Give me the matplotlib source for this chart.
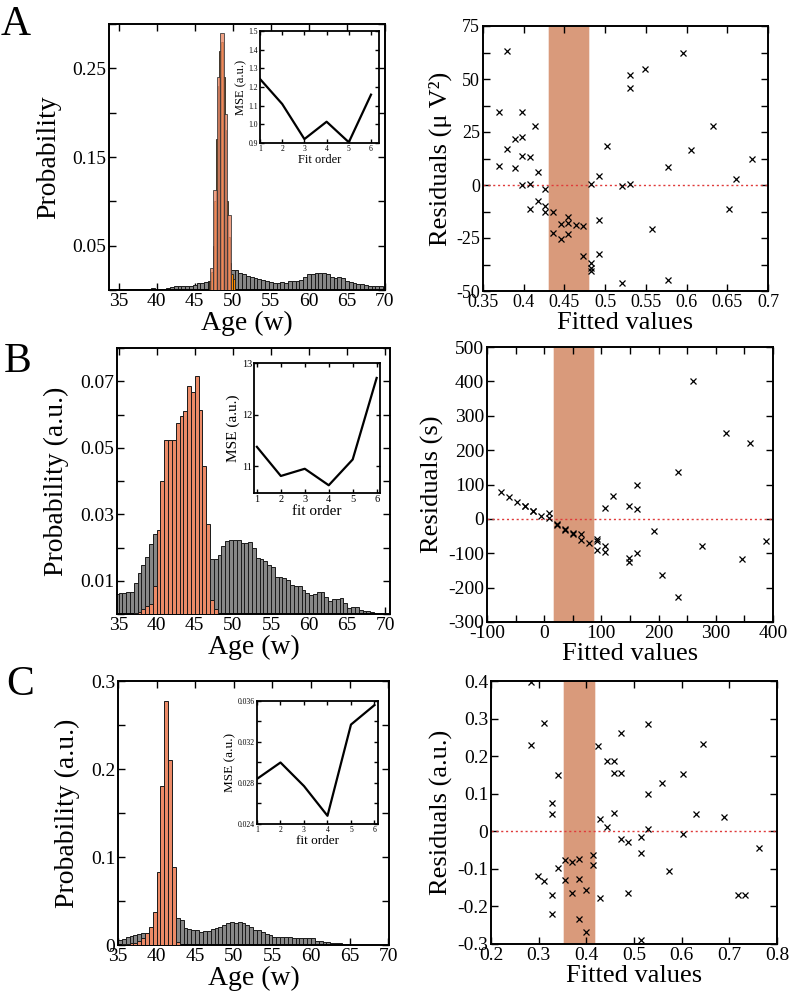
import numpy as np
import matplotlib
matplotlib.use("Agg")
import matplotlib.pyplot as plt
from matplotlib.ticker import FixedLocator, FuncFormatter

plt.rcParams['font.family'] = ['Liberation Serif', 'DejaVu Serif']
plt.rcParams['mathtext.fontset'] = 'stix'

# ---------------- data ----------------
# Panel A histograms (probability per bin)
A_gray_start, A_gray_w = 33.75, 0.5
A_gray = [0.0012, 0.0012, 0.0012, 0.0010, 0.0008, 0.0008, 0.0010, 0.0012, 0.0012, 0.0014,
          0.0016, 0.0018, 0.0014, 0.0012, 0.0016, 0.0025, 0.0032, 0.0040, 0.0043, 0.0045,
          0.0045, 0.0048, 0.0055, 0.0075, 0.0080, 0.0088, 0.0105, 0.0125, 0.0150, 0.0180,
          0.0200, 0.0210, 0.0220, 0.0220, 0.0190, 0.0175, 0.0160, 0.0145, 0.0135, 0.0122,
          0.0110, 0.0100, 0.0095, 0.0083, 0.0075, 0.0085, 0.0080, 0.0105, 0.0105, 0.0105,
          0.0115, 0.0150, 0.0175, 0.0185, 0.0195, 0.0190, 0.0190, 0.0175, 0.0150, 0.0135,
          0.0145, 0.0135, 0.0105, 0.0085, 0.0075, 0.0070, 0.0065, 0.0055, 0.0050, 0.0048,
          0.0045, 0.0045, 0.0035]
A_peak_start, A_peak_w = 47.02, 0.45
A_peak = [0.025, 0.113, 0.240, 0.290, 0.198, 0.085]
A_fine_start, A_fine_w = 46.9, 0.225
A_fine = [0.010, 0.020, 0.050, 0.100, 0.170, 0.230, 0.270, 0.280, 0.240, 0.180,
          0.100, 0.060, 0.030, 0.018, 0.012]

# Panel B histograms
B_gray_start, B_gray_w = 34.5, 0.5
B_gray = [0.0059, 0.0064, 0.0064, 0.0065, 0.0067, 0.0092, 0.0124, 0.0147, 0.0170, 0.0212,
          0.0240, 0.0250, 0.0250, 0.0240, 0.0230, 0.0220, 0.0210, 0.0200, 0.0190, 0.0180,
          0.0180, 0.0170, 0.0170, 0.0165, 0.0165, 0.0165, 0.0165, 0.0177, 0.0204, 0.0220,
          0.0222, 0.0224, 0.0222, 0.0214, 0.0214, 0.0217, 0.0197, 0.0167, 0.0164, 0.0160,
          0.0147, 0.0142, 0.0112, 0.0110, 0.0107, 0.0102, 0.0087, 0.0085, 0.0085, 0.0072,
          0.0064, 0.0057, 0.0060, 0.0067, 0.0067, 0.0050, 0.0040, 0.0045, 0.0044, 0.0047,
          0.0032, 0.0017, 0.0020, 0.0020, 0.0012, 0.0010, 0.0008, 0.0006, 0.0004, 0.0002,
          0.0001]
B_peak_start, B_peak_w = 37.0, 0.5
B_peak = [0.0004, 0.0007, 0.0015, 0.0024, 0.0030, 0.0085, 0.0252, 0.0400, 0.0524, 0.0524,
          0.0524, 0.0575, 0.0594, 0.0610, 0.0687, 0.0667, 0.0715, 0.0614, 0.0444, 0.0272,
          0.0042, 0.0014]

# Panel C histograms
C_gray_start, C_gray_w = 35.0, 0.5
C_gray = [0.0060, 0.0068, 0.0087, 0.0100, 0.0110, 0.0125, 0.0135, 0.0140, 0.0160, 0.0180,
          0.0250, 0.0300, 0.0320, 0.0330, 0.0330, 0.0310, 0.0280, 0.0190, 0.0180, 0.0170,
          0.0170, 0.0150, 0.0160, 0.0160, 0.0180, 0.0190, 0.0210, 0.0230, 0.0250, 0.0260,
          0.0250, 0.0260, 0.0250, 0.0230, 0.0210, 0.0170, 0.0170, 0.0150, 0.0130, 0.0110,
          0.0095, 0.0087, 0.0087, 0.0087, 0.0087, 0.0083, 0.0083, 0.0083, 0.0083, 0.0083,
          0.0083, 0.0050, 0.0045, 0.0038, 0.0030, 0.0026, 0.0019, 0.0019, 0.0011, 0.0011,
          0.0004, 0.0002]
C_peak_start, C_peak_w = 35.5, 0.5
C_peak = [0.0010, 0.0015, 0.0020, 0.0026, 0.0045, 0.0076, 0.0140, 0.0210, 0.0380, 0.0830,
          0.1810, 0.2770, 0.2100, 0.0890, 0.0030]

# Insets: MSE vs fit order
fit_order = [1, 2, 3, 4, 5, 6]
A_mse = [1.243, 1.109, 0.921, 1.014, 0.904, 1.159]
B_mse = [11.375, 10.81, 10.95, 10.63, 11.13, 12.71]
C_mse = [0.0284, 0.0300, 0.0277, 0.0248, 0.0337, 0.0356]

# Residual scatter plots
A_fit = [0.3795, 0.3696, 0.3983, 0.4143, 0.3889, 0.3983, 0.3795, 0.3983, 0.4077, 0.3696,
         0.3889, 0.4171, 0.3983, 0.4077, 0.4265, 0.4077, 0.4171, 0.4265, 0.4265, 0.4360,
         0.4360, 0.4454, 0.4454, 0.4548, 0.4548, 0.4548, 0.4638, 0.4732, 0.4732, 0.4826,
         0.4826, 0.4826, 0.4826, 0.4924, 0.4924, 0.4924, 0.5019, 0.5203, 0.5203, 0.5301,
         0.5301, 0.5301, 0.5493, 0.5579, 0.5768, 0.5768, 0.5956, 0.6050, 0.6328, 0.6521,
         0.6611, 0.6799]
A_res = [63.0, 34.3, 34.3, 28.0, 21.9, 22.5, 17.1, 13.5, 13.1, 9.1,
         7.9, 6.3, -0.2, 0.6, -2.0, -11.3, -7.5, -9.7, -12.6, -12.9,
         -22.6, -18.2, -25.6, -15.1, -17.9, -23.3, -18.9, -19.2, -33.6, 0.5,
         -37.0, -39.3, -40.4, 4.1, -16.5, -32.7, 18.4, -0.6, -46.1, 52.0,
         45.6, 0.5, 54.7, -20.6, 8.3, -44.8, 62.3, 16.7, 27.7, -11.5,
         2.8, 12.4]
A_band = [0.431, 0.480]

B_fit = [-75.5, -62.1, -48.1, -33.6, -33.6, -19.6, -19.6, -5.6, 7.8, 7.8,
         22.4, 22.4, 36.4, 36.4, 50.3, 50.3, 64.9, 64.9, 78.9, 92.9,
         92.9, 92.9, 106.9, 106.9, 106.9, 120.9, 148.8, 148.8, 148.8, 162.8,
         162.8, 162.8, 191.4, 205.4, 233.3, 233.3, 260.7, 275.3, 317.2, 359.2,
         345.2, 387.2]
B_res = [77.4, 63.8, 49.3, 36.8, 38.5, 22.2, 24.0, 8.7, 16.4, 3.9,
         -17.4, -14.5, -31.9, -30.0, -41.6, -45.0, -43.5, -60.9, -69.6, -58.0,
         -64.8, -89.9, 31.0, -80.3, -95.7, 67.7, 36.8, -114.1, -125.7, 98.6,
         30.0, -98.6, -35.8, -163.4, 136.4, -226.3, 400.4, -80.3, 248.5, 219.5,
         -116.0, -65.8]
B_band = [16.6, 86.5]

C_fit = [0.2839, 0.2839, 0.3119, 0.3413, 0.3273, 0.3273, 0.3413, 0.2979, 0.3119, 0.3273,
         0.3273, 0.3559, 0.3559, 0.3706, 0.3706, 0.3853, 0.3853, 0.3853, 0.3993, 0.3993,
         0.4140, 0.4140, 0.4252, 0.4280, 0.4280, 0.4434, 0.4434, 0.4573, 0.4573, 0.4573,
         0.4720, 0.4720, 0.4720, 0.4874, 0.4874, 0.5147, 0.5147, 0.5147, 0.5294, 0.5294,
         0.5294, 0.5594, 0.5734, 0.6028, 0.6028, 0.6308, 0.6448, 0.6881, 0.7182, 0.7329,
         0.7622]
C_res = [0.3965, 0.2308, 0.2875, 0.1510, 0.0740, 0.0447, -0.0988, -0.1192, -0.1334, -0.1688,
         -0.2211, -0.0776, -0.1307, -0.0811, -0.1653, -0.0732, -0.1263, -0.2335, -0.1556, -0.2681,
         -0.0625, -0.0909, 0.2263, 0.0340, -0.1786, 0.1865, 0.0119, 0.1865, 0.1563, 0.0491,
         0.2627, 0.1563, -0.0218, -0.0280, -0.1644, -0.0147, -0.0572, -0.2885, 0.2848, 0.1005,
         0.0048, 0.1280, -0.1050, 0.1519, -0.0067, 0.0456, 0.2325, 0.0376, -0.1688, -0.1688,
         -0.0439]
C_band = [0.3524, 0.4189]

# ---------------- layout ----------------
W, H = 793, 1001
fig = plt.figure(figsize=(W / 100, H / 100), dpi=100)


def rect(x0, y0, x1, y1):
    return [x0 / W, 1 - y1 / H, (x1 - x0) / W, (y1 - y0) / H]


GRAY = '#878787'
SALMON = '#EC8A67'
DORANGE = '#FF8C00'
BAND = '#D99A7B'

TICK_FS = 14
LABEL_FS = 20


def style(ax, lw=1.4, tl=5):
    for s in ax.spines.values():
        s.set_linewidth(lw)
    ax.tick_params(direction='in', top=True, right=True, length=tl, width=1.0)


def fmt_sel(labels):
    def f(v, pos):
        for k, s in labels.items():
            if abs(v - k) < 1e-9:
                return s
        return ''
    return FuncFormatter(f)


def bars(ax, start, w, vals, color, **kw):
    x = start + w * np.arange(len(vals))
    ax.bar(x, vals, width=w, align='edge', color=color, **kw)


def hist_panel(r, gray, peak, xlim, ylim, yticks, ylabels, ylab, fine=None):
    ax = fig.add_axes(rect(*r))
    bars(ax, gray[0], gray[1], gray[2], GRAY, edgecolor='#1a1a1a', linewidth=0.7, zorder=2)
    if fine is not None:
        bars(ax, fine[0], fine[1], fine[2], DORANGE, edgecolor='#202020', linewidth=0.6, zorder=3)
        bars(ax, peak[0], peak[1], peak[2], SALMON, edgecolor='#333333', linewidth=0.7,
             alpha=0.8, zorder=4)
    else:
        bars(ax, peak[0], peak[1], peak[2], SALMON, edgecolor='#1a1a1a', linewidth=0.7, zorder=4)
    ax.set_xlim(*xlim)
    ax.set_ylim(*ylim)
    ax.set_xticks(np.arange(35, 71, 5))
    ax.yaxis.set_major_locator(FixedLocator(yticks))
    ax.yaxis.set_major_formatter(fmt_sel(ylabels))
    style(ax)
    ax.tick_params(labelsize=TICK_FS, pad=2)
    ax.set_xlabel('Age (w)', fontsize=LABEL_FS, labelpad=1)
    ax.set_ylabel(ylab, fontsize=LABEL_FS, labelpad=8)
    return ax


def inset(r, y, xlim, ylim, yticks, ylabels, xlab, tfs, lfs):
    ax = fig.add_axes(rect(*r))
    ax.plot(fit_order, y, color='black', lw=1.6)
    ax.set_xlim(*xlim)
    ax.set_ylim(*ylim)
    ax.set_xticks(fit_order)
    ax.yaxis.set_major_locator(FixedLocator(yticks))
    ax.yaxis.set_major_formatter(fmt_sel(ylabels))
    style(ax, lw=1.3, tl=3)
    ax.tick_params(labelsize=tfs, pad=1.5)
    ax.set_xlabel(xlab, fontsize=lfs, labelpad=1)
    ax.set_ylabel('MSE (a.u.)', fontsize=lfs, labelpad=1)
    return ax


def scatter_panel(r, x, y, band, xlim, ylim, xticks, xlabels, yticks, ylabels, ylab, tfs):
    ax = fig.add_axes(rect(*r))
    span = band[1] - band[0]
    ax.axvspan(band[0] - 0.025 * span, band[1] + 0.025 * span, color=BAND, alpha=0.3, lw=0, zorder=1)
    ax.axvspan(band[0], band[1], color=BAND, lw=0, zorder=1)
    ax.axhline(0, color='#E03A3A', lw=1.0, ls=(0, (1.5, 2.0)), zorder=2)
    ax.plot(x, y, ls='none', marker='x', ms=4.2, mew=0.9, color='black', zorder=3)
    ax.set_xlim(*xlim)
    ax.set_ylim(*ylim)
    ax.xaxis.set_major_locator(FixedLocator(xticks))
    ax.xaxis.set_major_formatter(fmt_sel(xlabels))
    ax.yaxis.set_major_locator(FixedLocator(yticks))
    ax.yaxis.set_major_formatter(fmt_sel(ylabels))
    style(ax)
    ax.tick_params(labelsize=tfs, pad=2)
    ax.set_xlabel('Fitted values', fontsize=19, labelpad=1)
    ax.set_ylabel(ylab, fontsize=19, labelpad=3)
    return ax


# ---- Panel A ----
hist_panel((109, 24, 385, 290), (A_gray_start, A_gray_w, A_gray), (A_peak_start, A_peak_w, A_peak),
           (33.75, 70), (0, 0.3), np.arange(0, 0.301, 0.05),
           {0.05: '0.05', 0.15: '0.15', 0.25: '0.25'}, 'Probability',
           fine=(A_fine_start, A_fine_w, A_fine))
inset((260, 31, 379, 143), A_mse, (1, 6.36), (0.9, 1.5), np.arange(0.9, 1.501, 0.1),
      {0.9: '0.9', 1.0: '1.0', 1.1: '1.1', 1.2: '1.2', 1.3: '1.3', 1.4: '1.4', 1.5: '1.5'},
      'Fit order', 5.5, 9)
scatter_panel((483, 26, 768, 291), A_fit, A_res, A_band, (0.35, 0.7), (-50, 75),
              np.arange(0.35, 0.701, 0.05),
              {0.35: '0.35', 0.4: '0.4', 0.45: '0.45', 0.5: '0.5', 0.55: '0.55',
               0.6: '0.6', 0.65: '0.65', 0.7: '0.7'},
              np.arange(-50, 75.1, 12.5),
              {-50: '-50', -25: '-25', 0: '0', 25: '25', 50: '50', 75: '75'},
              'Residuals (μ V²)', 13)

# ---- Panel B ----
hist_panel((117, 348, 390, 614), (B_gray_start, B_gray_w, B_gray), (B_peak_start, B_peak_w, B_peak),
           (34.8, 70.6), (0, 0.08), np.arange(0, 0.0801, 0.01),
           {0.01: '0.01', 0.03: '0.03', 0.05: '0.05', 0.07: '0.07'}, 'Probability (a.u.)')
inset((254, 363, 380, 493), B_mse, (0.88, 6.14), (10.48, 13), [11, 12, 13],
      {11: '11', 12: '12', 13: '13'}, 'fit order', 7.5, 11)
scatter_panel((487, 347, 773, 622), B_fit, B_res, B_band, (-100, 400), (-300, 500),
              np.arange(-100, 401, 50),
              {-100: '-100', 0: '0', 100: '100', 200: '200', 300: '300', 400: '400'},
              np.arange(-300, 501, 100),
              {v: str(v) for v in range(-300, 501, 100)},
              'Residuals (s)', 14)

# ---- Panel C ----
hist_panel((118, 681, 389, 945), (C_gray_start, C_gray_w, C_gray), (C_peak_start, C_peak_w, C_peak),
           (35, 70.1), (0, 0.3), np.arange(0, 0.301, 0.05),
           {0: '0', 0.1: '0.1', 0.2: '0.2', 0.3: '0.3'}, 'Probability (a.u.)')
inset((257, 701, 378, 824), C_mse, (1, 6.15), (0.024, 0.036), np.arange(0.024, 0.0361, 0.002),
      {0.024: '0.024', 0.028: '0.028', 0.032: '0.032', 0.036: '0.036'}, 'fit order', 5.5, 9.5)
scatter_panel((491, 681, 777, 944), C_fit, C_res, C_band, (0.2, 0.8), (-0.3, 0.4),
              np.arange(0.2, 0.801, 0.1),
              {0.2: '0.2', 0.3: '0.3', 0.4: '0.4', 0.5: '0.5', 0.6: '0.6', 0.7: '0.7', 0.8: '0.8'},
              np.arange(-0.3, 0.401, 0.1),
              {-0.3: '-0.3', -0.2: '-0.2', -0.1: '-0.1', 0: '0', 0.1: '0.1', 0.2: '0.2',
               0.3: '0.3', 0.4: '0.4'},
              'Residuals (a.u.)', 14)

# panel letters
fig.text(1 / W, 1 - 35 / H, 'A', fontsize=30, va='baseline', ha='left')
fig.text(4 / W, 1 - 372 / H, 'B', fontsize=30, va='baseline', ha='left')
fig.text(6 / W, 1 - 695 / H, 'C', fontsize=30, va='baseline', ha='left')

fig.savefig('out.png', dpi=100)
